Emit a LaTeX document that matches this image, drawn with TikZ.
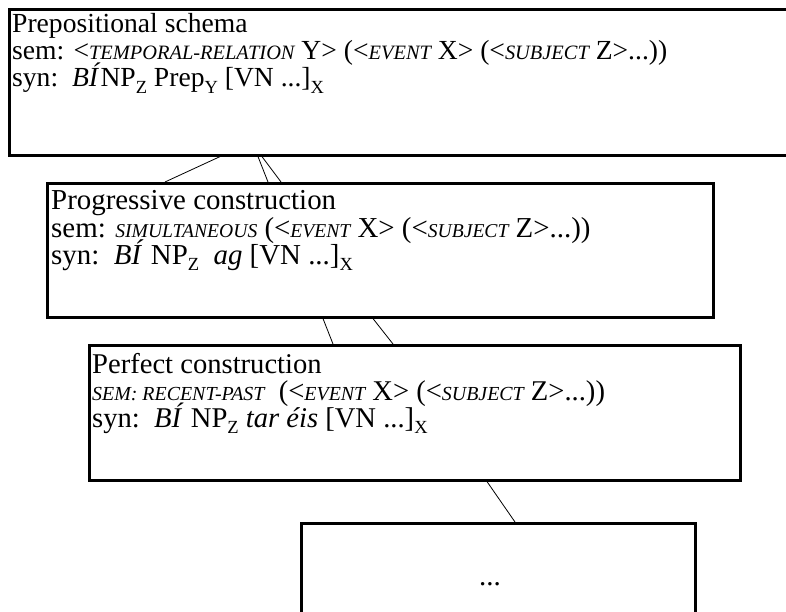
\documentclass[tikz,border=0pt]{standalone}
\usepackage{fontspec}
\setmainfont{Liberation Serif}
\usetikzlibrary{calc}
\def\scsz{20.3}
\newcommand\mysc[1]{{\fontsize{\scsz}{20}\selectfont\itshape #1}}
\newcommand\myhy{{\itshape -}}
\newcommand\mysub[1]{\raisebox{-0.22em}{\fontsize{18.5}{18}\selectfont #1}}
\begin{document}
\begin{tikzpicture}[x=1pt,y=-1pt,
  box/.style={draw=black, line width=2.6pt, rectangle, inner sep=0pt, anchor=north west},
  txt/.style={anchor=base west, inner sep=0pt},
  fa/.style={font=\fontsize{27.6}{28}\selectfont\def\scsz{20.4}},
  fb/.style={font=\fontsize{28.9}{28}\selectfont\def\scsz{19.6}},
  fc/.style={font=\fontsize{28.6}{28}\selectfont\def\scsz{19.9}},
  link/.style={draw=black, line width=0.8pt}]
\useasboundingbox (0,0) rectangle (786,612);
% boxes
\node[box, minimum width=792pt, minimum height=146pt] (b1) at (8,8) {};
\node[box, minimum width=666pt, minimum height=134pt] (b2) at (46,182) {};
\node[box, minimum width=651pt, minimum height=135pt] (b3) at (88,344) {};
\node[box, minimum width=394pt, minimum height=130pt] (b4) at (300,522) {};
% box 1 text
\node[txt, fa] (t11) at ($(b1.north west)+(4,25)$) {Prepositional schema};
\node[txt, fa] (t12) at ($(b1.north west)+(4,52)$) {sem: <\mysc{TEMPORAL\myhy RELATION} Y> (<\mysc{EVENT} X> (<\mysc{SUBJECT} Z>...))};
\node[txt, fa] (t13) at ($(b1.north west)+(4,79)$) {syn:\ \ \textit{BÍ}NP\mysub{Z} Prep\mysub{Y} [VN ...]\mysub{X}};
% box 2 text
\node[txt, fb] (t21) at ($(b2.north west)+(5,28)$) {Progressive construction};
\node[txt, fb] (t22) at ($(b2.north west)+(5,55)$) {sem: \mysc{SIMULTANEOUS} (<\mysc{EVENT} X> (<\mysc{SUBJECT} Z>...))};
\node[txt, fb] (t23) at ($(b2.north west)+(5,82)$) {syn:\ \ \textit{BÍ} NP\mysub{Z}\ \ \textit{ag} [VN ...]\mysub{X}};
% box 3 text
\node[txt, fc] (t31) at ($(b3.north west)+(4,29)$) {Perfect construction};
\node[txt, fc] (t32) at ($(b3.north west)+(4,56)$) {\mysc{SEM: RECENT\myhy PAST}\ \ (<\mysc{EVENT} X> (<\mysc{SUBJECT} Z>...))};
\node[txt, fc] (t33) at ($(b3.north west)+(4,83)$) {syn:\ \ \textit{BÍ} NP\mysub{Z} \textit{tar éis} [VN ...]\mysub{X}};
% box 4 text
\node[txt, fb, anchor=center] (t41) at (490,584) {...};
% connectors
\draw[link] ($(b1.south west)+(212,0)$) -- ($(b2.north west)+(119,0)$);
\draw[link] ($(b1.south west)+(250,0)$) -- ($(b2.north west)+(222,0)$);
\draw[link] ($(b1.south west)+(254,0)$) -- ($(b2.north west)+(235,0)$);
\draw[link] ($(b2.south west)+(277,0)$) -- ($(b3.north west)+(245,0)$);
\draw[link] ($(b2.south west)+(327,0)$) -- ($(b3.north west)+(305,0)$);
\draw[link] ($(b3.south west)+(399,0)$) -- ($(b4.north west)+(215,0)$);
\end{tikzpicture}
\end{document}
